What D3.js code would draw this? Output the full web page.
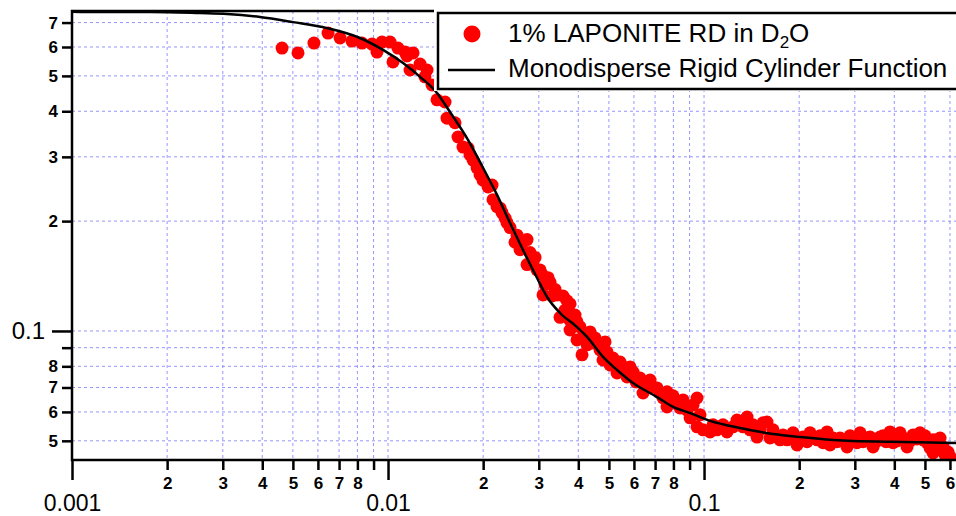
<!DOCTYPE html>
<html>
<head>
	<title>Laponite SANS</title>
	<script src="https://d3js.org/d3.v7.min.js"></script>
</head>
<style>
	body{
		margin:0;
		background-color:#fff;
		font-family: 'Liberation Sans', Arial, sans-serif;
	}
	.grid line{
		stroke:#7b7bff;
		stroke-opacity:0.8;
		stroke-width:1;
		stroke-dasharray:3,3;
	}
	.axis path{ display:none; }
	.axis line{ stroke:#000; stroke-width:2.5; }
	.axis text{ fill:#000; }
</style>
<body>
<div class="screen"></div>
<script>

//DATA

var qData1 = [0.00462,0.00519,0.00583,0.00646,0.00705,0.00769,0.00827,0.0089,0.00923,0.00957,
	0.01015,0.01037,0.01075,0.01132,0.01148,0.01174,0.0120,0.01263,0.01309,0.01329,
	0.01378,0.01429,0.01515,0.01537,0.01629,0.01665,0.01727,0.01791,0.01817,0.01858,
	0.01913,0.01955,0.01998,0.02073,0.02134,0.02149,0.02213,0.02262,0.02295,0.02346,
	0.0238,0.02433,0.02523,0.0256,0.02617,0.02674,0.02754,0.02754,0.02815,0.02877,
	0.02919,0.02962,0.03027,0.03071,0.03094,0.03139,0.03209,0.03256,0.03304,0.03377,
	0.03427,0.03502,0.03579,0.03632,0.03685,0.03767,0.03767,0.03767,0.03906,0.03963,
	0.03963,0.04051,0.04111,0.04141,0.04264,0.04358,0.04454,0.04519,0.04687,0.0479,
	0.04861,0.04932,0.05041,0.05152,0.05305,0.05422,0.05542,0.05706,0.05832,0.05962,
	0.06093,0.06273,0.06412,0.06601,0.06747,0.06896,0.071,0.07257,0.07418,0.07637,
	0.07637,0.07806,0.07978,0.08214,0.08396,0.08582,0.08836,0.09031,0.09231,0.09502,
	0.09502,0.09712,0.0993,0.1045,0.1068,0.1099,0.1148,0.1182,0.1235,0.1272,
	0.1329,0.1368,0.1398,0.1429,0.1471,0.1504,0.1537,0.1582,0.1617,0.1653,
	0.1702,0.174,0.1778,0.1831,0.1871,0.1913,0.1969,0.2013,0.2057,0.2118,
	0.2165,0.2213,0.2279,0.2329,0.238,0.2451,0.2505,0.256,0.2636,0.2694,
	0.2754,0.2835,0.2897,0.2962,0.3049,0.3117,0.3186,0.328,0.3352,0.3427,
	0.3528,0.3606,0.3685,0.3767,0.3878,0.3963,0.4081,0.4171,0.4264,0.439,
	0.4487,0.4586,0.4721,0.4825,0.4932,0.5004,0.5078,0.519,0.5305,0.5305,
	0.5383,0.5462,0.5582,0.5582,0.5706,0.579,0.5917,0.6004];

var iData1 = [0.596,0.578,0.615,0.655,0.635,0.623,0.615,0.611,0.581,0.619,
	0.619,0.546,0.596,0.581,0.567,0.519,0.578,0.539,0.497,0.519,
	0.472,0.430,0.424,0.383,0.372,0.340,0.319,0.317,0.304,0.294,
	0.280,0.268,0.259,0.248,0.251,0.229,0.219,0.217,0.211,0.204,
	0.198,0.192,0.175,0.183,0.167,0.175,0.178,0.152,0.164,0.155,
	0.159,0.147,0.147,0.143,0.1255,0.134,0.140,0.136,0.1247,0.130,
	0.1255,0.109,0.1247,0.114,0.121,0.1186,0.107,0.1006,0.1106,0.106,
	0.0945,0.1026,0.086,0.0963,0.0916,0.0994,0.0927,0.0957,0.0887,0.0833,
	0.0933,0.0876,0.0807,0.0843,0.0767,0.0822,0.0797,0.0748,0.0797,0.0772,
	0.0725,0.0743,0.0676,0.0702,0.0734,0.0702,0.0698,0.0676,0.0655,0.0681,
	0.0619,0.0635,0.0664,0.0639,0.0615,0.0647,0.0607,0.0578,0.0627,0.0655,
	0.0546,0.0589,0.0536,0.0529,0.0553,0.0536,0.0553,0.0529,0.0546,0.057,
	0.0546,0.0581,0.0536,0.0553,0.0512,0.0536,0.056,0.0563,0.0509,0.0536,
	0.0512,0.0503,0.0519,0.0503,0.0509,0.0526,0.0487,0.0503,0.0512,0.0497,
	0.0526,0.0512,0.0503,0.0516,0.0494,0.0529,0.0487,0.0509,0.0497,0.0509,
	0.05,0.0481,0.0516,0.0503,0.0494,0.0526,0.0497,0.0509,0.0512,0.0481,
	0.05,0.0512,0.0516,0.0497,0.0529,0.0494,0.05,0.0526,0.0509,0.0481,
	0.05,0.0519,0.0506,0.0526,0.0503,0.0516,0.0494,0.0478,0.0463,0.0503,
	0.0487,0.0503,0.0472,0.0509,0.0481,0.0457,0.0466,0.0452];

// fitted curve
var fitQ = [0.001,0.001226,0.001765,0.002542,0.003094,0.003934,0.005004,0.006412,0.008154,0.009643,
	0.01116,0.01263,0.01429,0.01571,0.01791,0.01998,0.02213,0.02433,0.02674,0.02962,
	0.03186,0.03502,0.03964,0.04263,0.0479,0.05305,0.05962,0.07101,0.07981,0.09031,
	0.1045,0.13,0.1653,0.2013,0.2835,0.3878,0.6275];
var fitI = [0.750,0.748,0.748,0.743,0.739,0.725,0.702,0.676,0.635,0.589,
	0.542,0.497,0.449,0.398,0.334,0.280,0.236,0.1976,0.1667,0.1397,
	0.1239,0.112,0.1025,0.0963,0.0849,0.0782,0.072,0.0659,0.0619,0.0596,
	0.0567,0.0542,0.0522,0.0512,0.05,0.0497,0.0493];

var xMajorTicks = [0.001, 0.01, 0.1];
var xMajorLabels = ["0.001", "0.01", "0.1"];
var xMinorTicks = [0.002,0.003,0.004,0.005,0.006,0.007,0.008,0.009,
	0.02,0.03,0.04,0.05,0.06,0.07,0.08,0.09,
	0.2,0.3,0.4,0.5,0.6];
var xMinorLabels = ["2","3","4","5","6","7","8","",
	"2","3","4","5","6","7","8","",
	"2","3","4","5","6"];
var yMajorTicks = [0.1];
var yMajorLabels = ["0.1"];
var yMinorTicks = [0.05,0.06,0.07,0.08,0.09,0.2,0.3,0.4,0.5,0.6,0.7];
var yMinorLabels = ["5","6","7","8","","2","3","4","5","6","7"];

var seriesName = "1% LAPONITE RD in D";
var fitName = "Monodisperse Rigid Cylinder Function";

//SETUP

var width = 956;
var height = 516;
var plotL = 72, plotR = 956, plotT = 11, plotB = 460;
var font = "'Liberation Sans', Arial, sans-serif";

var svg = d3.select(".screen").append("svg")
	.attr("width", width)
	.attr("height", height)
	.style("display", "block");

var x = d3.scaleLog().domain([0.001, 0.627]).range([plotL, plotR]);
var y = d3.scaleLog().domain([0.0443, 0.753]).range([plotB, plotT]);

svg.append("defs").append("clipPath").attr("id", "plotclip")
	.append("rect")
	.attr("x", plotL).attr("y", plotT)
	.attr("width", plotR - plotL).attr("height", plotB - plotT);

//GRID

var grid = svg.append("g").attr("class", "grid");
grid.selectAll("line.vx")
	.data(xMajorTicks.concat(xMinorTicks))
	.enter().append("line")
	.attr("class", "vx")
	.attr("x1", d => x(d)).attr("x2", d => x(d))
	.attr("y1", plotT).attr("y2", plotB);
grid.selectAll("line.hy")
	.data(yMajorTicks.concat(yMinorTicks))
	.enter().append("line")
	.attr("class", "hy")
	.attr("x1", plotL).attr("x2", plotR)
	.attr("y1", d => y(d)).attr("y2", d => y(d));

//DATA POINTS AND FIT

var plot = svg.append("g").attr("clip-path", "url(#plotclip)");

plot.selectAll("circle")
	.data(qData1.map((q, i) => [q, iData1[i]]))
	.enter().append("circle")
	.attr("cx", d => x(d[0]))
	.attr("cy", d => y(d[1]))
	.attr("r", 6.5)
	.attr("fill", "#ff0000");

var line = d3.line()
	.x(d => x(d[0]))
	.y(d => y(d[1]))
	.curve(d3.curveMonotoneX);

plot.append("path")
	.datum(fitQ.map((q, i) => [q, fitI[i]]))
	.attr("fill", "none")
	.attr("stroke", "#000")
	.attr("stroke-width", 2.5)
	.attr("d", line);

//AXES

function styleAxis(g, size, weight) {
	g.attr("font-family", font).attr("font-size", size);
	g.selectAll("text").attr("font-weight", weight);
}

svg.append("g")
	.attr("class", "axis")
	.attr("transform", "translate(0," + plotB + ")")
	.call(d3.axisBottom(x).tickValues(xMinorTicks).tickSize(10).tickPadding(7)
		.tickFormat((d, i) => xMinorLabels[i]))
	.call(styleAxis, 17, "bold");

svg.append("g")
	.attr("class", "axis")
	.attr("transform", "translate(0," + plotB + ")")
	.call(d3.axisBottom(x).tickValues(xMajorTicks).tickSize(20).tickPadding(15)
		.tickFormat((d, i) => xMajorLabels[i]))
	.call(styleAxis, 23, "normal");

svg.append("g")
	.attr("class", "axis")
	.attr("transform", "translate(" + plotL + ",0)")
	.call(d3.axisLeft(y).tickValues(yMinorTicks).tickSize(10).tickPadding(4)
		.tickFormat((d, i) => yMinorLabels[i]))
	.call(styleAxis, 17, "bold");

svg.append("g")
	.attr("class", "axis")
	.attr("transform", "translate(" + plotL + ",0)")
	.call(d3.axisLeft(y).tickValues(yMajorTicks).tickSize(20).tickPadding(7)
		.tickFormat((d, i) => yMajorLabels[i]))
	.call(styleAxis, 24, "normal");

// frame lines
svg.append("path")
	.attr("d", "M" + plotR + "," + plotT + "H" + plotL + "V" + plotB + "H" + plotR)
	.attr("fill", "none")
	.attr("stroke", "#000")
	.attr("stroke-width", 2.5);

//LEGEND

svg.append("rect")
	.attr("x", 434).attr("y", 0)
	.attr("width", 530).attr("height", 91)
	.attr("fill", "#fff");

var legend = svg.append("g").attr("font-family", font);
legend.append("rect")
	.attr("x", 438).attr("y", 13)
	.attr("width", 530).attr("height", 76)
	.attr("fill", "#fff")
	.attr("stroke", "#000")
	.attr("stroke-width", 2.5);

legend.append("circle")
	.attr("cx", 472).attr("cy", 34)
	.attr("r", 8.5)
	.attr("fill", "#ff0000");

legend.append("line")
	.attr("x1", 448).attr("x2", 495)
	.attr("y1", 70).attr("y2", 70)
	.attr("stroke", "#000")
	.attr("stroke-width", 2.5);

var t1 = legend.append("text")
	.attr("x", 508).attr("y", 42)
	.attr("font-size", 26);
t1.append("tspan").text(seriesName);
t1.append("tspan").attr("dy", 6).attr("font-size", 17).text("2");
t1.append("tspan").attr("dy", -6).text("O");

legend.append("text")
	.attr("x", 508).attr("y", 77)
	.attr("font-size", 26)
	.text(fitName);

</script>
</body>
</html>
